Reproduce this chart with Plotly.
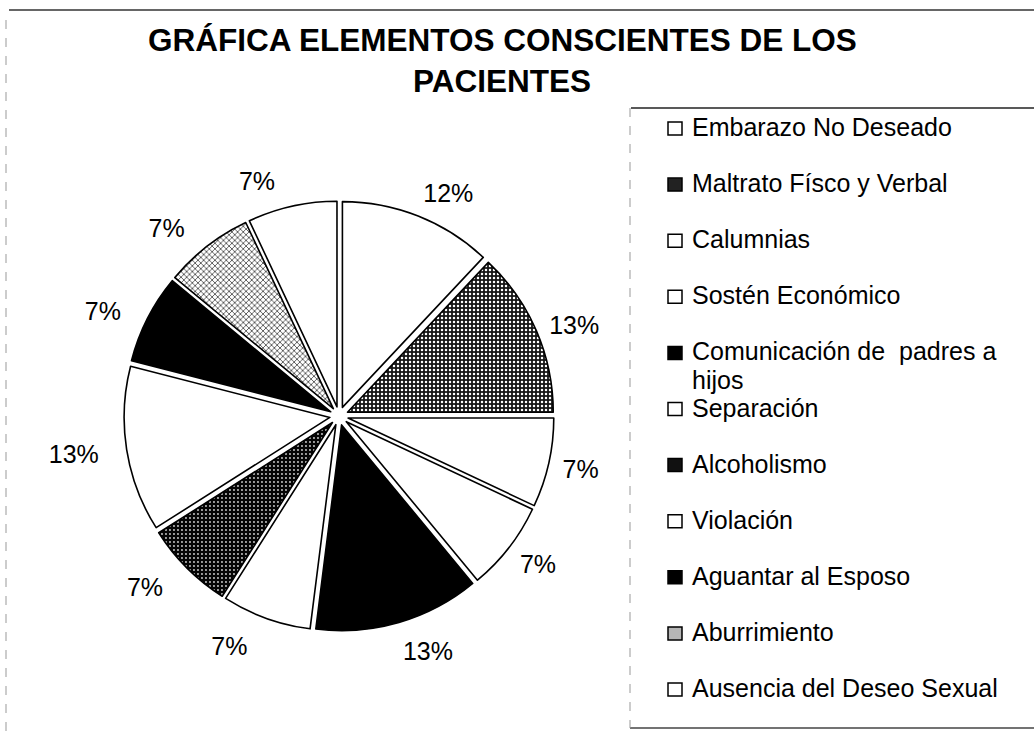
import textwrap
import plotly.graph_objects as go

# ---------------- data ----------------
title_lines = ["GRÁFICA ELEMENTOS CONSCIENTES DE LOS", "PACIENTES"]
labels = [
    "Embarazo No Deseado",
    "Maltrato Físco y Verbal",
    "Calumnias",
    "Sostén Económico",
    "Comunicación de  padres a hijos",
    "Separación",
    "Alcoholismo",
    "Violación",
    "Aguantar al Esposo",
    "Aburrimiento",
    "Ausencia del Deseo Sexual",
]
values = [12, 13, 7, 7, 13, 7, 7, 13, 7, 7, 7]

# ---------------- styles ----------------
fill_bg = ["white", "#161616", "white", "white", "black", "white",
           "#050505", "white", "black", "white", "white"]
fill_fg = ["white", "#ffffff", "white", "white", "black", "white",
           "#d0d0d0", "white", "black", "#111111", "white"]
pat_shape = ["", ".", "", "", "", "", ".", "", "", "x", ""]
pat_solid = [0.3, 0.3, 0.3, 0.3, 0.3, 0.3, 0.18, 0.3, 0.3, 0.3, 0.3]
legend_fill = ["white", "#222222", "white", "white", "black", "white",
               "#111111", "white", "black", "#b5b5b5", "white"]

FONT = "Arial, Liberation Sans"
W, H = 1034, 739
cx, cy, R = 339, 416, 215
lcx, lcy, R_LAB = 332, 418, 229
PULL = 0.045

fig = go.Figure()
# slices
fig.add_trace(go.Pie(
    labels=labels,
    values=values,
    sort=False,
    direction="clockwise",
    rotation=0,
    pull=PULL,
    marker=dict(
        colors=fill_bg,
        line=dict(color="black", width=1.6),
        pattern=dict(shape=pat_shape, bgcolor=fill_bg, fgcolor=fill_fg,
                     size=4, solidity=pat_solid, fillmode="replace"),
    ),
    textinfo="none",
    domain=dict(x=[(cx - R) / W, (cx + R) / W],
                y=[1 - (cy + R) / H, 1 - (cy - R) / H]),
    showlegend=False,
    hoverinfo="label+percent",
))
# percentage labels (same data, transparent slightly larger pie carrying the outside labels)
fig.add_trace(go.Pie(
    labels=labels,
    values=values,
    sort=False,
    direction="clockwise",
    rotation=0,
    pull=PULL,
    marker=dict(colors=["rgba(0,0,0,0)"] * len(values), line=dict(width=0)),
    texttemplate="%{percent:.0%}",
    textposition="outside",
    outsidetextfont=dict(family=FONT, size=25, color="black"),
    domain=dict(x=[(lcx - R_LAB) / W, (lcx + R_LAB) / W],
                y=[1 - (lcy + R_LAB) / H, 1 - (lcy - R_LAB) / H]),
    showlegend=False,
    hoverinfo="skip",
))

annotations = []
shapes = []

# title
title_y = [40, 81]
for line, ty in zip(title_lines, title_y):
    annotations.append(dict(
        text="<b>" + line + "</b>", x=502 / W, y=1 - ty / H,
        xref="paper", yref="paper", xanchor="center", yanchor="middle",
        showarrow=False, font=dict(family=FONT, size=31.5, color="black"),
    ))

# manual legend
leg_y0, leg_step = 127, 56.1
for i, (lab, col) in enumerate(zip(labels, legend_fill)):
    y = leg_y0 + leg_step * i
    for j, part in enumerate(textwrap.wrap(lab, 26)):
        annotations.append(dict(
            text=part.replace("  ", " &nbsp;"), x=690 / W, y=1 - (y + 29 * j) / H,
            xref="paper", yref="paper", xanchor="left", yanchor="middle",
            showarrow=False, font=dict(family=FONT, size=25, color="black"),
        ))
    shapes.append(dict(
        type="rect", xref="paper", yref="paper",
        x0=668 / W, x1=682 / W, y0=1 - (y + 8) / H, y1=1 - (y - 5) / H,
        fillcolor=col, line=dict(color="black", width=1.5),
    ))

# frame lines
def hline(x0, x1, y, color="#333333", width=1.5, dash="solid"):
    shapes.append(dict(type="line", xref="paper", yref="paper",
                       x0=x0 / W, x1=x1 / W, y0=1 - y / H, y1=1 - y / H,
                       line=dict(color=color, width=width, dash=dash)))

def vline(x, y0, y1, color="#999999", width=1, dash="dash"):
    shapes.append(dict(type="line", xref="paper", yref="paper",
                       x0=x / W, x1=x / W, y0=1 - y0 / H, y1=1 - y1 / H,
                       line=dict(color=color, width=width, dash=dash)))

hline(9, 1034, 10)
hline(631, 1034, 108, color="#222222")
hline(630, 1034, 728, color="#444444")
vline(630, 108, 728)
vline(6, 20, 739)

fig.update_layout(
    width=W, height=H,
    margin=dict(l=0, r=0, t=0, b=0),
    paper_bgcolor="white",
    plot_bgcolor="white",
    annotations=annotations,
    shapes=shapes,
    showlegend=False,
)

fig.write_html("out.html", config={"displayModeBar": False},
               post_script="document.body.style.margin='0';")
